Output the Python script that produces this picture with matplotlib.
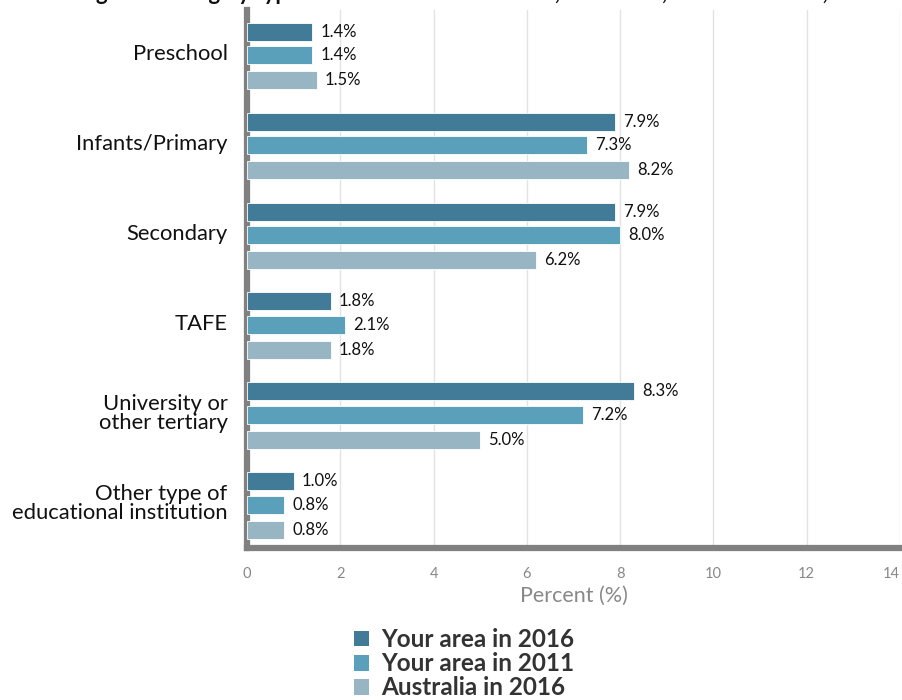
import numpy as np
import matplotlib
matplotlib.use("Agg")
import matplotlib.pyplot as plt
from matplotlib.patches import Patch

plt.rcParams['font.family'] = ['Lato', 'DejaVu Sans']

# ---- data
categories = ["Preschool", "Infants/Primary", "Secondary", "TAFE",
              "University or\nother tertiary", "Other type of\neducational institution"]
area_2016 = [1.4, 7.9, 7.9, 1.8, 8.3, 1.0]
area_2011 = [1.4, 7.3, 8.0, 2.1, 7.2, 0.8]
aus_2016  = [1.5, 8.2, 6.2, 1.8, 5.0, 0.8]
series_names = ["Your area in 2016", "Your area in 2011", "Australia in 2016"]
xticks = [0, 2, 4, 6, 8, 10, 12, 14]

cols = ["#417b97", "#5aa0bb", "#97b5c3"]
offs = [-0.23, 0.03, 0.31]

fig = plt.figure(figsize=(9.03, 7.0), dpi=100)
ax = fig.add_axes([247/903, 152/700, 653/903, 538/700])

y = np.arange(len(categories))
for vals, c, o in zip([area_2016, area_2011, aus_2016], cols, offs):
    ax.barh(y + o, vals, height=0.2, color=c, edgecolor="white", linewidth=0.6, zorder=3)
    for yi, v in zip(y, vals):
        ax.text(v + 0.17, yi + o, "%.1f%%" % v, va="center", ha="left",
                fontsize=12, color="#111111", zorder=4)

ax.set_xlim(0, 14)
ax.set_ylim(5.51, -0.47)
ax.set_xticks(xticks)
ax.set_xticklabels([str(t) for t in xticks], fontsize=10.5, color="#888888")
ax.get_xticklabels()[-1].set_horizontalalignment("right")
ax.set_yticks(y)
ax.set_yticklabels(categories, fontsize=15.8, color="#111111", linespacing=0.95)
ax.tick_params(axis="both", length=0)
ax.tick_params(axis="x", pad=14)
ax.tick_params(axis="y", pad=14)
ax.grid(axis="x", color="#e3e3e3", linewidth=1, zorder=0)
ax.set_xlabel("Percent (%)", fontsize=15.5, color="#888888", labelpad=3)

for s in ["top", "right"]:
    ax.spines[s].set_visible(False)
for s in ["left", "bottom"]:
    ax.spines[s].set_color("#808080")
    ax.spines[s].set_linewidth(4.5)

# title, mostly cut off above the figure edge
fig.text(0.008, 1.0, "Percentage attending by type of educational institution, Your area, 2011 and 2016, Australia 2016",
         fontsize=16, fontweight="bold", color="#111111", va="baseline", ha="left")

handles = [Patch(facecolor=c, edgecolor="none") for c in cols]
fig.legend(handles, series_names, loc="upper left", bbox_to_anchor=(354/903, 1 - 628/700),
           frameon=False, prop={"weight": "bold", "size": 17.5},
           handlelength=0.62, handleheight=0.62, handletextpad=0.5, labelspacing=0.05,
           labelcolor="#333333", borderaxespad=0, borderpad=0)

fig.savefig("out.png", dpi=100)
